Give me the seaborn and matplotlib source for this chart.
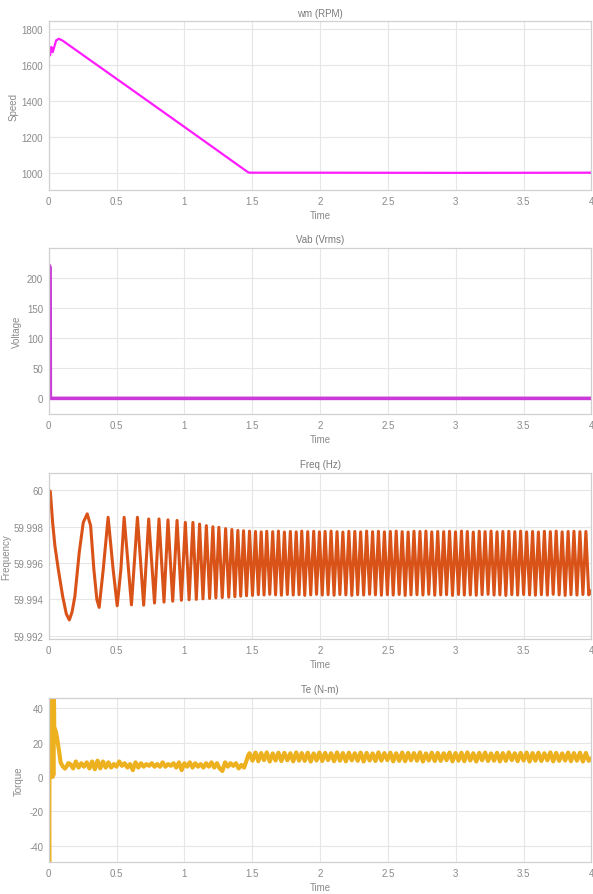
import numpy as np
import pandas as pd
import matplotlib
matplotlib.use("Agg")
import matplotlib.pyplot as plt
import seaborn as sns

# ---------------- data ----------------
time_ticks = [0, 0.5, 1, 1.5, 2, 2.5, 3, 3.5, 4]
time_tick_labels = ["0", "0.5", "1", "1.5", "2", "2.5", "3", "3.5", "4"]

# rotor speed (RPM)
speed_t = [0.000, 0.004, 0.010, 0.020, 0.030, 0.055, 0.075, 0.100, 0.500, 1.000, 1.468, 1.480, 2.000, 3.000, 4.000]
speed_rpm = [1717, 1700, 1652, 1698, 1670, 1735, 1744, 1735, 1522, 1255, 1004, 1001, 1001, 1000, 1001]
speed_ticks = [1000, 1200, 1400, 1600, 1800]
speed_tick_labels = ["1000", "1200", "1400", "1600", "1800"]

# line voltage (Vrms)
volt_t = [0.000, 0.004, 0.008, 0.0105, 0.012, 0.100, 4.000]
volt_v = [222, 221, 219, 218, 0, 0, 0]
volt_ticks = [0, 50, 100, 150, 200]
volt_tick_labels = ["0", "50", "100", "150", "200"]

# frequency (Hz): first swings traced point by point
freq_early_t = [0.000, 0.012, 0.029, 0.046, 0.071, 0.103, 0.130, 0.152, 0.172, 0.193,
                0.225, 0.255, 0.284, 0.309, 0.333, 0.355, 0.372, 0.402, 0.438, 0.475,
                0.505, 0.532, 0.556, 0.610, 0.654, 0.700, 0.737, 0.780, 0.813, 0.850,
                0.879, 0.914, 0.946, 0.978, 1.007, 1.035, 1.063, 1.088, 1.112, 1.137,
                1.162, 1.186, 1.210, 1.232, 1.254, 1.279, 1.304, 1.327, 1.350, 1.372,
                1.394, 1.415, 1.436, 1.458]
freq_early_hz = [60.00000, 59.99995, 59.99824, 59.99694, 59.99565, 59.99417, 59.99320, 59.99287, 59.99330, 59.99417,
                 59.99658, 59.99824, 59.99871, 59.99806, 59.99565, 59.99400, 59.99356, 59.99565, 59.99852, 59.99565,
                 59.99365, 59.99565, 59.99852, 59.99370, 59.99852, 59.99368, 59.99843, 59.99380, 59.99843, 59.99385,
                 59.99838, 59.99390, 59.99835, 59.99395, 59.99824, 59.99398, 59.99824, 59.99400, 59.99815, 59.99403,
                 59.99806, 59.99405, 59.99800, 59.99408, 59.99797, 59.99410, 59.99790, 59.99412, 59.99785, 59.99415,
                 59.99780, 59.99418, 59.99778, 59.99420]

# steady ripple: crest and trough instants shared by frequency and torque
ripple_peak_t = [1.480, 1.524, 1.566, 1.607, 1.651, 1.693, 1.737, 1.781, 1.824, 1.865,
                 1.909, 1.953, 1.995, 2.037, 2.081, 2.125, 2.168, 2.212, 2.256, 2.299,
                 2.343, 2.387, 2.430, 2.474, 2.518, 2.561, 2.605, 2.649, 2.692, 2.736,
                 2.780, 2.823, 2.867, 2.911, 2.954, 2.998, 3.042, 3.085, 3.129, 3.173,
                 3.216, 3.260, 3.304, 3.347, 3.391, 3.435, 3.478, 3.522, 3.566, 3.609,
                 3.653, 3.697, 3.740, 3.784, 3.828, 3.871, 3.915, 3.959]
ripple_trough_t = [1.502, 1.545, 1.587, 1.629, 1.672, 1.715, 1.759, 1.802, 1.845, 1.887,
                   1.931, 1.974, 2.016, 2.059, 2.103, 2.146, 2.190, 2.234, 2.277, 2.321,
                   2.365, 2.408, 2.452, 2.496, 2.539, 2.583, 2.627, 2.670, 2.714, 2.758,
                   2.801, 2.845, 2.889, 2.932, 2.976, 3.020, 3.063, 3.107, 3.151, 3.194,
                   3.238, 3.282, 3.325, 3.369, 3.413, 3.456, 3.500, 3.544, 3.587, 3.631,
                   3.675, 3.718, 3.762, 3.806, 3.849, 3.893, 3.937, 3.980]

freq_peak_hz = [59.99776, 59.99774, 59.99772, 59.99775, 59.99773, 59.99776, 59.99771, 59.99774, 59.99772, 59.99776,
                59.99773, 59.99775, 59.99772, 59.99774, 59.99776, 59.99773, 59.99771, 59.99775, 59.99774, 59.99772,
                59.99776, 59.99773, 59.99775, 59.99772, 59.99774, 59.99776, 59.99773, 59.99771, 59.99775, 59.99774,
                59.99776, 59.99772, 59.99774, 59.99773, 59.99775, 59.99772, 59.99776, 59.99774, 59.99771, 59.99775,
                59.99773, 59.99776, 59.99772, 59.99774, 59.99775, 59.99773, 59.99776, 59.99772, 59.99774, 59.99771,
                59.99775, 59.99773, 59.99776, 59.99772, 59.99774, 59.99775, 59.99773, 59.99774]
freq_trough_hz = [59.99422, 59.99426, 59.99424, 59.99428, 59.99425, 59.99423, 59.99427, 59.99424, 59.99426, 59.99422,
                  59.99425, 59.99428, 59.99424, 59.99426, 59.99423, 59.99427, 59.99425, 59.99422, 59.99426, 59.99424,
                  59.99428, 59.99425, 59.99423, 59.99426, 59.99424, 59.99427, 59.99422, 59.99425, 59.99426, 59.99424,
                  59.99428, 59.99423, 59.99425, 59.99426, 59.99422, 59.99427, 59.99424, 59.99425, 59.99423, 59.99426,
                  59.99428, 59.99424, 59.99425, 59.99422, 59.99426, 59.99424, 59.99427, 59.99425, 59.99423, 59.99426,
                  59.99424, 59.99428, 59.99425, 59.99422, 59.99426, 59.99424, 59.99427, 59.99425]
freq_ticks = [59.992, 59.994, 59.996, 59.998, 60.0]
freq_tick_labels = ["59.992", "59.994", "59.996", "59.998", "60"]

# electromagnetic torque (N-m): start-up transient and first load step
torque_early_t = [0.000, 0.004, 0.006, 0.008, 0.010, 0.013, 0.016, 0.019, 0.022, 0.025,
                  0.028, 0.031, 0.034, 0.037, 0.041, 0.046, 0.054, 0.063, 0.078, 0.088,
                  0.103, 0.120, 0.135, 0.144]
torque_early_nm = [0.0, -60.0, 30.0, 14.0, 30.0, 60.0, 20.0, 60.0, 1.0, 60.0,
                   0.0, 60.0, 1.0, 60.0, 27.0, 28.0, 26.0, 22.0, 14.3, 8.5,
                   6.2, 4.9, 6.5, 8.0]
torque_band_t = [0.16, 0.18, 0.20, 0.22, 0.24, 0.26, 0.28, 0.30, 0.32, 0.34,
                 0.36, 0.38, 0.40, 0.42, 0.44, 0.46, 0.48, 0.50, 0.52, 0.54,
                 0.56, 0.58, 0.60, 0.62, 0.64, 0.66, 0.68, 0.70, 0.72, 0.74,
                 0.76, 0.78, 0.80, 0.82, 0.84, 0.86, 0.88, 0.90, 0.92, 0.94,
                 0.96, 0.98, 1.00, 1.02, 1.04, 1.06, 1.08, 1.10, 1.12, 1.14,
                 1.16, 1.18, 1.20, 1.22, 1.24, 1.26, 1.28, 1.30, 1.32, 1.34,
                 1.36, 1.38, 1.40, 1.42, 1.44, 1.46, 1.47]
torque_band_nm = [7.5, 5.0, 9.0, 5.5, 8.0, 6.0, 8.5, 5.0, 9.0, 4.5,
                  9.5, 5.0, 9.0, 5.5, 8.5, 5.5, 7.5, 6.0, 9.0, 6.5,
                  8.0, 5.5, 7.5, 4.0, 8.5, 5.5, 8.0, 6.0, 7.5, 6.5,
                  8.0, 6.0, 7.5, 6.0, 8.5, 6.0, 7.5, 6.5, 8.0, 5.5,
                  8.5, 4.0, 8.0, 6.0, 8.5, 5.5, 8.0, 6.0, 7.5, 5.5,
                  8.0, 6.0, 8.5, 5.5, 8.0, 5.0, 3.5, 8.5, 6.0, 8.0,
                  6.5, 8.0, 5.0, 7.0, 5.5, 10.0, 12.5]
torque_peak_nm = [13.8, 14.2, 13.9, 14.3, 13.7, 14.1, 14.0, 13.8, 14.3, 13.9,
                  14.1, 13.7, 14.2, 14.0, 13.8, 14.3, 13.9, 14.1, 13.8, 14.2,
                  14.0, 13.7, 14.3, 13.9, 14.1, 13.8, 14.2, 14.0, 13.9, 14.3,
                  13.7, 14.1, 14.0, 13.8, 14.2, 13.9, 14.1, 14.3, 13.8, 14.0,
                  14.2, 13.7, 14.1, 13.9, 14.3, 13.8, 14.0, 14.2, 13.9, 14.1,
                  13.8, 14.3, 14.0, 13.7, 14.2, 13.9, 14.1, 14.0]
torque_trough_nm = [9.5, 9.2, 9.8, 9.0, 9.6, 9.3, 9.7, 9.1, 9.5, 9.4,
                    9.0, 9.6, 9.3, 9.8, 9.2, 9.5, 9.1, 9.7, 9.4, 9.0,
                    9.6, 9.3, 9.5, 9.8, 9.1, 9.4, 9.2, 9.7, 9.5, 9.0,
                    9.6, 9.3, 9.4, 9.8, 9.1, 9.5, 9.2, 9.6, 9.0, 9.7,
                    9.3, 9.5, 9.1, 9.4, 9.8, 9.2, 9.6, 9.0, 9.5, 9.3,
                    9.7, 9.1, 9.4, 9.6, 9.2, 9.5, 9.0, 9.4]
torque_ticks = [-40, -20, 0, 20, 40]
torque_tick_labels = ["-40", "-20", "0", "20", "40"]


def merged(t_a, v_a, t_b, v_b):
    """Combine point lists and order them in time."""
    df = pd.DataFrame({"t": list(t_a) + list(t_b), "v": list(v_a) + list(v_b)})
    return df.sort_values("t").reset_index(drop=True)


freq_df = merged(freq_early_t + ripple_peak_t, freq_early_hz + freq_peak_hz,
                 ripple_trough_t + [4.0], freq_trough_hz + [59.99450])
torque_df = merged(torque_early_t + torque_band_t + ripple_peak_t,
                   torque_early_nm + torque_band_nm + torque_peak_nm,
                   ripple_trough_t + [4.0], torque_trough_nm + [11.0])
speed_df = pd.DataFrame({"t": speed_t, "v": speed_rpm})
volt_df = pd.DataFrame({"t": volt_t, "v": volt_v})

# ---------------- style ----------------
sns.set_theme(style="whitegrid")
plt.rcParams["font.family"] = ["Liberation Sans", "DejaVu Sans"]
text_gray = "#8a8a8a"
grid_gray = "#e6e6e6"
spine_gray = "#d0d0d0"

fig = plt.figure(figsize=(5.93, 8.95), dpi=100)
fig.patch.set_facecolor("white")

left, width = 0.0821, 0.9153
boxes = [
    (0.7866, 0.1883),
    (0.5363, 0.1855),
    (0.2849, 0.1855),
    (0.0358, 0.1832),
]

panels = [
    dict(df=speed_df, color="#ff1cff", lw=1.6, title="wm (RPM)", ylabel="Speed", lx=-0.056,
         ylim=(905, 1840), ticks=speed_ticks, labels=speed_tick_labels),
    dict(df=volt_df, color="#c93ad8", lw=2.6, title="Vab (Vrms)", ylabel="Voltage", lx=-0.049,
         ylim=(-26, 250), ticks=volt_ticks, labels=volt_tick_labels),
    dict(df=freq_df, color="#d95319", lw=2.2, title="Freq (Hz)", ylabel="Frequency", lx=-0.069,
         ylim=(59.99182, 60.00096), ticks=freq_ticks, labels=freq_tick_labels),
    dict(df=torque_df, color="#edb120", lw=3.0, title="Te (N-m)", ylabel="Torque", lx=-0.046,
         ylim=(-49.5, 46), ticks=torque_ticks, labels=torque_tick_labels),
]

for (bottom, height), p in zip(boxes, panels):
    ax = fig.add_axes([left, bottom, width, height])
    sns.lineplot(data=p["df"], x="t", y="v", ax=ax, color=p["color"],
                 linewidth=p["lw"], estimator=None, sort=False)
    ax.set_xlim(0, 4)
    ax.set_ylim(*p["ylim"])
    ax.set_xticks(time_ticks)
    ax.set_xticklabels(time_tick_labels)
    ax.set_yticks(p["ticks"])
    ax.set_yticklabels(p["labels"])
    ax.set_title(p["title"], fontsize=7, color="#7a7a7a", pad=4)
    ax.set_xlabel("Time", fontsize=7, color=text_gray, labelpad=3)
    ax.set_ylabel(p["ylabel"], fontsize=7, color=text_gray)
    ax.yaxis.set_label_coords(p["lx"], 0.5)
    ax.tick_params(axis="both", labelsize=7, colors=text_gray, length=0, pad=4)
    ax.grid(True, color=grid_gray, linewidth=0.8)
    ax.set_facecolor("white")
    for s in ax.spines.values():
        s.set_color(spine_gray)
        s.set_linewidth(0.9)

fig.savefig("out.png", dpi=100, facecolor="white")
